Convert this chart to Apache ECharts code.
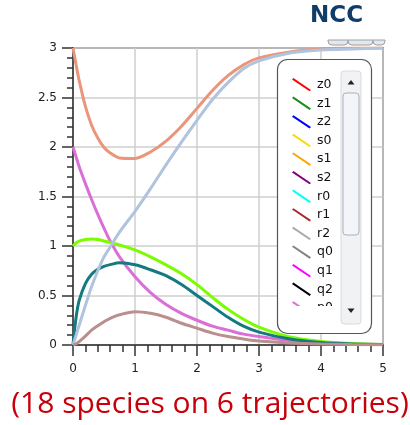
<!DOCTYPE html>
<html>
<head>
<meta charset="utf-8">
<script src="https://cdn.jsdelivr.net/npm/echarts@6/dist/echarts.min.js"></script>
<style>
  html, body { margin: 0; padding: 0; background: #fff; }
  #chart { width: 410px; height: 425px; }
</style>
</head>
<body>
<div id="chart"></div>
<script>
// time points shared by all trajectories
const times = [0, 0.05, 0.1, 0.2, 0.3, 0.4, 0.5, 0.6, 0.75, 1, 1.25, 1.5, 1.75, 2, 2.25, 2.5, 2.75, 3, 3.5, 4, 4.5, 5];

// the 6 distinct trajectories
const trajSalmon = [3.0, 2.83, 2.67, 2.41, 2.22, 2.09, 1.995, 1.94, 1.89, 1.885, 1.95, 2.06, 2.21, 2.39, 2.57, 2.72, 2.83, 2.9, 2.96, 2.99, 3.0, 3.0];
const trajBlue   = [0, 0.1, 0.2, 0.4, 0.59, 0.75, 0.89, 0.99, 1.14, 1.35, 1.58, 1.82, 2.05, 2.27, 2.48, 2.65, 2.79, 2.87, 2.95, 2.98, 2.99, 3.0];
const trajOrchid = [2.0, 1.9, 1.8, 1.63, 1.47, 1.32, 1.18, 1.05, 0.89, 0.69, 0.53, 0.41, 0.32, 0.25, 0.19, 0.15, 0.11, 0.085, 0.045, 0.025, 0.012, 0.006];
const trajGreen  = [1.0, 1.03, 1.05, 1.065, 1.07, 1.065, 1.05, 1.035, 1.01, 0.96, 0.89, 0.81, 0.72, 0.61, 0.48, 0.36, 0.26, 0.18, 0.08, 0.035, 0.015, 0.006];
const trajTeal   = [0, 0.28, 0.45, 0.62, 0.715, 0.765, 0.795, 0.812, 0.83, 0.81, 0.76, 0.7, 0.61, 0.5, 0.39, 0.28, 0.19, 0.13, 0.06, 0.025, 0.01, 0.004];
const trajBrown  = [0, 0.012, 0.035, 0.09, 0.15, 0.195, 0.235, 0.27, 0.305, 0.335, 0.32, 0.28, 0.22, 0.17, 0.12, 0.085, 0.06, 0.04, 0.02, 0.01, 0.005, 0.002];

const trajectories = [trajSalmon, trajBlue, trajOrchid, trajGreen, trajTeal, trajBrown];

const speciesNames = ["z0", "z1", "z2", "s0", "s1", "s2", "r0", "r1", "r2", "q0", "q1", "q2",
                      "p0", "p1", "p2", "x0", "x1", "x2"];
const speciesColors = ["#ff0000", "#1a8c1a", "#0000ff", "#ffd700", "#ffa500", "#800080",
                       "#00ffff", "#a52a2a", "#a9a9a9", "#808080", "#ff00ff", "#000000",
                       "#da70d6", "#7cfc00", "#137a80", "#e9967a", "#b0c4de", "#bc8f8f"];
// which trajectory each species follows
const speciesTraj = [0, 1, 2, 3, 4, 5, 0, 1, 2, 3, 4, 5, 2, 3, 4, 0, 1, 5];

const xTicks = [0, 1, 2, 3, 4, 5];
const yTicks = [0, 0.5, 1, 1.5, 2, 2.5, 3];

const chart = echarts.init(document.getElementById("chart"), null, { renderer: "canvas" });

const series = speciesNames.map((name, i) => {
  const traj = trajectories[speciesTraj[i]];
  const onTop = i >= 12;
  return {
    name: name,
    type: "line",
    smooth: 0.3,
    symbol: "none",
    color: speciesColors[i],
    lineStyle: { width: onTop ? 3 : 1.5, color: speciesColors[i] },
    data: times.map((t, k) => [t, traj[k]]),
    z: 2,
  };
});

const axisFont = { fontFamily: "DejaVu Sans", fontSize: 12, color: "#222" };

const option = {
  animation: false,
  backgroundColor: "#fff",
  grid: {
    left: 73, right: 27, top: 48, bottom: 80,
    show: true, borderColor: "#444", borderWidth: 1.5,
  },
  xAxis: {
    type: "value",
    min: xTicks[0], max: xTicks[xTicks.length - 1], interval: 1,
    axisLine: { show: true, lineStyle: { color: "#333", width: 1.5 } },
    axisTick: { show: true, length: 11, lineStyle: { color: "#333", width: 1.5 } },
    minorTick: { show: true, splitNumber: 5, length: 7, lineStyle: { color: "#333", width: 1.5 } },
    splitLine: { show: true, lineStyle: { color: "#cfcfcf", width: 1.5 } },
    axisLabel: Object.assign({ margin: 18 }, axisFont),
  },
  yAxis: {
    type: "value",
    min: yTicks[0], max: yTicks[yTicks.length - 1], interval: 0.5,
    axisLine: { show: true, lineStyle: { color: "#333", width: 1.5 } },
    axisTick: { show: true, length: 11, lineStyle: { color: "#333", width: 1.5 } },
    minorTick: { show: true, splitNumber: 5, length: 6, lineStyle: { color: "#333", width: 1.5 } },
    splitLine: { show: true, lineStyle: { color: "#cfcfcf", width: 1.5 } },
    axisLabel: Object.assign({ margin: 16 }, axisFont),
  },
  legend: {
    type: "scroll",
    orient: "vertical",
    left: 292, top: 78, height: 229,
    padding: 0,
    itemWidth: 19, itemHeight: 14, itemGap: 5.3,
    icon: "path://M1.5,0L20,12.5L18.5,14L0,1.5Z",
    textStyle: { fontFamily: "DejaVu Sans", fontSize: 12.5, color: "#111", padding: [0, 0, 0, 1] },
    pageButtonGap: 0,
    pageIconSize: 1,
    pageIconColor: "transparent",
    pageIconInactiveColor: "transparent",
    pageFormatter: "",
    pageTextStyle: { fontSize: 1, color: "transparent" },
    data: speciesNames,
    z: 6,
  },
  graphic: [
    // header
    { type: "text", left: 310, top: 5, z: 10,
      style: { text: "NCC", fill: "#0f3d68", font: "bold 23px 'DejaVu Sans'" } },
    { type: "rect", shape: { x: 328, y: 40, width: 20, height: 5, r: [0, 0, 4, 4] },
      style: { fill: "#e4e8ec", stroke: "#9aa0a6", lineWidth: 1 }, z: 1 },
    { type: "rect", shape: { x: 348, y: 40, width: 25, height: 5, r: [0, 0, 4, 4] },
      style: { fill: "#e4e8ec", stroke: "#9aa0a6", lineWidth: 1 }, z: 1 },
    { type: "rect", shape: { x: 373, y: 40, width: 12, height: 5, r: [0, 0, 4, 4] },
      style: { fill: "#e4e8ec", stroke: "#9aa0a6", lineWidth: 1 }, z: 1 },
    // legend box
    { type: "rect", shape: { x: 277.5, y: 59.5, width: 94, height: 274, r: 10 },
      style: { fill: "#fff", stroke: "#555", lineWidth: 1.2 }, z: 4 },
    // scrollbar track
    { type: "rect", shape: { x: 341, y: 71, width: 20, height: 253, r: 3 },
      style: { fill: "#f1f2f4", stroke: "#d8dbe0", lineWidth: 1 }, z: 5 },
    // scrollbar thumb
    { type: "rect", shape: { x: 343, y: 93, width: 16, height: 142, r: 3 },
      style: { fill: "#f3f5f8", stroke: "#a9b0ba", lineWidth: 1 }, z: 6 },
    { type: "polygon", shape: { points: [[347.5, 84.5], [354.5, 84.5], [351, 80]] },
      style: { fill: "#222" }, z: 6 },
    { type: "polygon", shape: { points: [[347.5, 308.5], [354.5, 308.5], [351, 313]] },
      style: { fill: "#222" }, z: 6 },
    // caption
    { type: "text", x: 210, y: 389, z: 10,
      style: { text: "(18 species on 6 trajectories)", fill: "#c8000a",
               font: "30px 'Open Sans'", align: "center", verticalAlign: "top" } },
  ],
  series: series,
};

chart.setOption(option);
</script>
</body>
</html>
